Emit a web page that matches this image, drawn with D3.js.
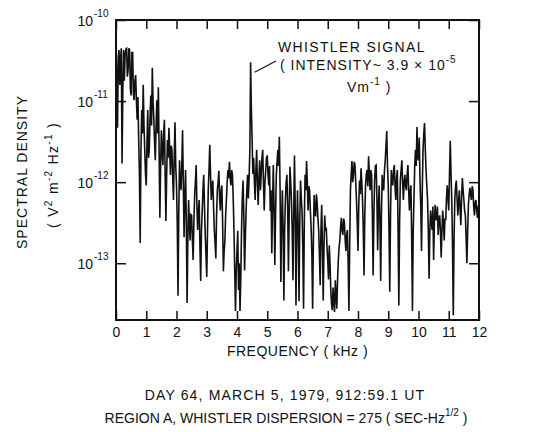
<!DOCTYPE html>
<html>
<head>
<meta charset="utf-8">
<script src="https://cdn.jsdelivr.net/npm/d3@7"></script>
<style>
  body { margin: 0; background: #fff; }
  text { font-family: "Liberation Sans", Arial, sans-serif; fill: #111; }
</style>
</head>
<body>
<script>
// frequency ticks (kHz) and decade ticks
let freqTicks = [0, 1, 2, 3, 4, 5, 6, 7, 8, 9, 10, 11, 12];
let decadeExps = [-10, -11, -12, -13];

// spectrum bins every 0.025 kHz, log10 of spectral density (V^2 m^-2 Hz^-1)
let binWidth = 0.025;
let logPsd = [
  // 0 - 0.975 kHz
  -10.35, -10.70, -11.33, -10.45, -10.37, -10.80, -10.49, -10.35, -11.77, -10.90,
  -10.37, -10.75, -10.43, -10.36, -10.35, -10.70, -10.62, -10.35, -10.37, -10.85,
  -10.93, -10.40, -10.40, -10.90, -10.99, -10.75, -10.68, -11.00, -11.23, -10.95,
  -11.48, -11.90, -12.75, -11.60, -11.11, -11.40, -10.80, -11.30, -11.60, -11.90,
  // 1 - 1.975
  -12.04, -11.50, -11.11, -11.70, -11.60, -11.20, -10.93, -11.30, -10.59, -11.00,
  -11.23, -11.50, -11.73, -11.30, -10.99, -11.40, -10.83, -11.60, -12.44, -11.80,
  -11.36, -11.60, -11.79, -11.40, -11.23, -11.90, -12.48, -11.90, -11.48, -11.70,
  -11.33, -11.60, -11.91, -11.55, -11.60, -11.95, -12.22, -11.70, -11.26, -11.80,
  // 2 - 2.975
  -12.04, -12.50, -13.40, -12.40, -11.73, -12.00, -12.10, -11.80, -11.36, -12.00,
  -12.68, -12.20, -11.85, -12.50, -13.49, -12.70, -12.22, -12.50, -12.72, -12.40,
  -12.41, -12.70, -12.96, -12.50, -12.16, -12.00, -11.79, -12.30, -12.59, -12.35,
  -12.22, -12.80, -13.22, -12.60, -12.35, -12.10, -11.91, -12.30, -12.65, -12.90,
  // 3 - 3.975
  -13.17, -12.60, -12.10, -11.85, -11.54, -11.90, -12.22, -12.05, -11.98, -12.30,
  -12.59, -12.75, -12.94, -12.40, -12.10, -12.00, -11.86, -12.20, -12.35, -12.10,
  -12.04, -12.50, -13.10, -12.85, -12.72, -12.40, -12.22, -12.00, -11.85, -11.95,
  -11.75, -11.95, -12.04, -11.85, -11.91, -12.20, -12.59, -13.10, -13.59, -13.10,
  // 4 - 4.975 (whistler near 4.45)
  -12.84, -12.60, -13.33, -13.00, -13.59, -13.20, -12.59, -12.20, -11.98, -12.40,
  -13.09, -12.70, -12.36, -12.10, -11.91, -12.20, -11.95, -11.60, -10.52, -11.10,
  -11.48, -11.90, -11.70, -12.00, -12.22, -11.85, -11.60, -12.00, -12.28, -11.95,
  -11.73, -12.10, -11.91, -11.70, -11.60, -12.00, -12.35, -12.00, -11.85, -11.70,
  // 5 - 5.975
  -11.67, -11.90, -12.04, -11.80, -12.36, -12.10, -12.88, -12.30, -11.79, -12.30,
  -13.02, -12.40, -11.91, -11.75, -11.60, -11.80, -11.44, -12.10, -13.23, -12.50,
  -12.10, -12.60, -13.46, -12.60, -12.22, -12.00, -11.91, -12.30, -13.10, -12.40,
  -11.81, -12.00, -12.22, -12.60, -13.21, -12.40, -11.67, -12.30, -13.52, -12.60,
  // 6 - 6.975
  -12.10, -12.60, -13.47, -12.50, -11.98, -12.20, -12.35, -12.80, -13.56, -12.50,
  -11.91, -12.10, -11.74, -12.00, -12.35, -12.05, -12.10, -12.35, -12.56, -12.90,
  -13.56, -12.70, -12.16, -12.40, -12.41, -12.15, -12.25, -12.45, -12.59, -12.90,
  -13.27, -12.60, -12.28, -12.80, -13.46, -12.80, -12.41, -12.60, -12.56, -12.80,
  // 7 - 7.975
  -12.96, -13.20, -12.78, -13.00, -13.33, -13.50, -13.58, -13.30, -13.46, -13.60,
  -13.21, -13.40, -13.56, -13.20, -12.96, -12.80, -12.72, -12.55, -12.44, -12.60,
  -12.65, -12.45, -12.49, -12.70, -12.85, -12.65, -12.59, -13.00, -13.59, -12.80,
  -12.10, -11.90, -11.74, -12.00, -11.91, -11.75, -11.79, -12.00, -12.22, -12.50,
  // 8 - 8.975
  -12.85, -12.30, -11.98, -12.15, -11.83, -12.00, -12.22, -12.60, -13.15, -12.40,
  -12.04, -11.90, -11.85, -12.05, -11.68, -11.90, -12.10, -11.85, -11.91, -12.40,
  -13.15, -12.40, -11.98, -11.80, -11.79, -12.20, -12.84, -12.30, -12.04, -12.50,
  -13.22, -12.40, -11.91, -12.05, -12.10, -11.85, -11.73, -11.55, -11.37, -11.80,
  // 9 - 9.975
  -12.04, -12.60, -13.35, -12.40, -11.85, -12.00, -12.04, -11.85, -11.79, -12.05,
  -12.22, -11.95, -11.85, -12.60, -13.52, -12.50, -11.98, -11.85, -11.73, -12.00,
  -12.22, -12.00, -11.91, -12.05, -12.10, -11.90, -11.79, -12.10, -12.35, -12.10,
  -12.04, -12.70, -13.59, -12.60, -12.22, -11.80, -11.60, -11.80, -11.32, -11.70,
  // 10 - 10.975
  -11.73, -11.45, -11.98, -12.30, -12.85, -12.10, -11.60, -11.40, -11.27, -11.60,
  -11.85, -12.05, -12.22, -12.60, -13.19, -12.60, -12.35, -12.50, -12.59, -12.30,
  -12.96, -12.50, -12.28, -12.45, -12.47, -12.30, -12.65, -12.45, -12.41, -12.60,
  -12.93, -12.60, -12.35, -12.50, -12.72, -12.45, -12.47, -12.20, -12.04, -12.20,
  // 11 - 12
  -12.35, -11.90, -11.49, -11.90, -12.22, -12.80, -13.64, -12.70, -12.22, -12.05,
  -11.98, -12.20, -12.41, -12.25, -12.10, -12.35, -12.53, -12.20, -11.95, -12.10,
  -12.22, -12.35, -12.41, -12.70, -13.00, -12.60, -12.28, -12.15, -12.07, -12.15,
  -12.22, -12.05, -12.10, -12.30, -12.41, -12.25, -12.22, -12.35, -12.44, -12.30,
  -12.28
];

window.onload = function() {
    let width = 536;
    let height = 432;
    let left = 116, right = 479, top = 20, bottom = 320;

    let svg = d3.select("body")
        .append("svg")
        .attr("width", width)
        .attr("height", height);

    let x = d3.scaleLinear()
        .domain([0, 12])
        .range([left, right]);

    let y = d3.scaleLog()
        .domain([Math.pow(10, -13.7), 1e-10])
        .range([bottom, top]);

    let data = logPsd.map((v, i) => ({ f: i * binWidth, p: Math.pow(10, v) }));

    // spectrum trace
    let line = d3.line()
        .x(d => x(d.f))
        .y(d => y(d.p));

    svg.append("path")
        .datum(data)
        .attr("d", line)
        .style("fill", "none")
        .style("stroke", "#111")
        .style("stroke-width", 1.6);

    // inward ticks on all four sides
    let decades = decadeExps.map(e => Math.pow(10, e));
    let axes = [
        d3.axisBottom(x).tickValues(freqTicks).tickSize(-9).tickPadding(7),
        d3.axisTop(x).tickValues(freqTicks).tickSize(-9).tickFormat(""),
        d3.axisLeft(y).tickValues(decades).tickSize(-10).tickFormat(""),
        d3.axisRight(y).tickValues(decades).tickSize(-10).tickFormat("")
    ];
    let shifts = [[0, bottom], [0, top], [left, 0], [right, 0]];
    axes.forEach(function(ax, i) {
        let g = svg.append("g")
            .attr("transform", "translate(" + shifts[i][0] + "," + shifts[i][1] + ")")
            .call(ax);
        g.select(".domain").remove();
        g.selectAll("line").style("stroke", "#111").style("stroke-width", 1.5);
        g.selectAll("text")
            .style("font-family", "Liberation Sans, Arial, sans-serif")
            .style("font-size", "14px")
            .style("fill", "#111");
    });

    // frame
    svg.append("rect")
        .attr("x", left)
        .attr("y", top)
        .attr("width", right - left)
        .attr("height", bottom - top)
        .style("fill", "none")
        .style("stroke", "#111")
        .style("stroke-width", 2);

    // decade labels 10^n
    decadeExps.forEach(function(e) {
        svg.append("text")
            .attr("x", 93)
            .attr("y", y(Math.pow(10, e)) + 6)
            .attr("text-anchor", "end")
            .style("font-size", "14px")
            .text("10");
        svg.append("text")
            .attr("x", 94)
            .attr("y", y(Math.pow(10, e)) - 3)
            .style("font-size", "10px")
            .text(String(e));
    });

    // x axis title
    svg.append("text")
        .attr("x", (left + right) / 2)
        .attr("y", 356)
        .attr("text-anchor", "middle")
        .style("font-size", "14px")
        .style("letter-spacing", "0.5px")
        .text("FREQUENCY ( kHz )");

    // y axis title, two rotated lines
    svg.append("text")
        .attr("transform", "translate(27,172) rotate(-90)")
        .attr("text-anchor", "middle")
        .style("font-size", "14px")
        .style("letter-spacing", "1px")
        .text("SPECTRAL DENSITY");

    let yl = svg.append("text")
        .attr("transform", "translate(58,175) rotate(-90)")
        .attr("text-anchor", "middle")
        .style("font-size", "14px")
        .style("letter-spacing", "1.3px");
    yl.append("tspan").text("( V");
    yl.append("tspan").attr("dy", -6).style("font-size", "10px").text("2");
    yl.append("tspan").attr("dy", 6).text(" m");
    yl.append("tspan").attr("dy", -6).style("font-size", "10px").text("-2");
    yl.append("tspan").attr("dy", 6).text(" Hz");
    yl.append("tspan").attr("dy", -6).style("font-size", "10px").text("-1");
    yl.append("tspan").attr("dy", 6).text(" )");

    // whistler annotation
    let peak = data[d3.maxIndex(data.slice(80), d => d.p) + 80];
    svg.append("line")
        .attr("x1", x(peak.f) + 4)
        .attr("y1", y(peak.p) + 10)
        .attr("x2", 276)
        .attr("y2", 61)
        .style("stroke", "#111")
        .style("stroke-width", 1.2);

    svg.append("text")
        .attr("x", 278)
        .attr("y", 52)
        .style("font-size", "14px")
        .style("letter-spacing", "1.35px")
        .text("WHISTLER SIGNAL");

    let a2 = svg.append("text")
        .attr("x", 280)
        .attr("y", 70)
        .style("font-size", "14px")
        .style("letter-spacing", "1px");
    a2.append("tspan").text("( INTENSITY~ 3.9 × 10");
    a2.append("tspan").attr("dy", -7).style("font-size", "10px").text("-5");

    let a3 = svg.append("text")
        .attr("x", 347)
        .attr("y", 92)
        .style("font-size", "14px")
        .style("letter-spacing", "1px");
    a3.append("tspan").text("Vm");
    a3.append("tspan").attr("dy", -7).style("font-size", "10px").text("-1");
    a3.append("tspan").attr("dy", 7).text(" )");

    // caption
    svg.append("text")
        .attr("x", 285)
        .attr("y", 400)
        .attr("text-anchor", "middle")
        .style("font-size", "14px")
        .style("letter-spacing", "1.15px")
        .text("DAY 64, MARCH 5, 1979, 912:59.1 UT");

    let c2 = svg.append("text")
        .attr("x", 286)
        .attr("y", 423)
        .attr("text-anchor", "middle")
        .style("font-size", "14px");
    c2.append("tspan").text("REGION A, WHISTLER DISPERSION = 275 ( SEC-Hz");
    c2.append("tspan").attr("dy", -7).style("font-size", "10px").text("1/2");
    c2.append("tspan").attr("dy", 7).text(" )");
};
</script>
</body>
</html>
